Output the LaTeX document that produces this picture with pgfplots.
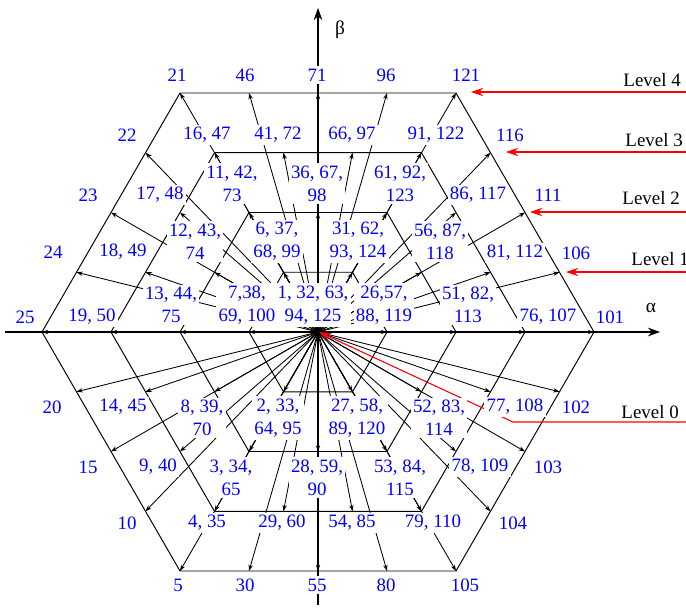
\documentclass[border=0pt]{standalone}
\usepackage{fontspec}
\setmainfont{Liberation Serif}
\usepackage{pgfplots}
\usepackage{pgfplotstable}
\pgfplotsset{compat=1.18}
\usetikzlibrary{arrows.meta}
\definecolor{lblue}{RGB}{0,0,255}

\pgfplotstableread{
x y u v
0 0 -138 239
0 0 -69 239
0 0 0 239
0 0 69 239
0 0 138 239
0 0 -172.5 179.3
0 0 -103.5 179.3
0 0 -34.5 179.3
0 0 34.5 179.3
0 0 103.5 179.3
0 0 172.5 179.3
0 0 -207 119.5
0 0 -138 119.5
0 0 -69 119.5
0 0 0 119.5
0 0 69 119.5
0 0 138 119.5
0 0 207 119.5
0 0 -241.5 59.76
0 0 -172.5 59.76
0 0 -103.5 59.76
0 0 -34.5 59.76
0 0 34.5 59.76
0 0 103.5 59.76
0 0 172.5 59.76
0 0 241.5 59.76
0 0 -276 0
0 0 -207 0
0 0 -138 0
0 0 -69 0
0 0 69 0
0 0 138 0
0 0 207 0
0 0 276 0
0 0 -241.5 -59.76
0 0 -172.5 -59.76
0 0 -103.5 -59.76
0 0 -34.5 -59.76
0 0 34.5 -59.76
0 0 103.5 -59.76
0 0 172.5 -59.76
0 0 241.5 -59.76
0 0 -207 -119.5
0 0 -138 -119.5
0 0 -69 -119.5
0 0 0 -119.5
0 0 69 -119.5
0 0 138 -119.5
0 0 207 -119.5
0 0 -172.5 -179.3
0 0 -103.5 -179.3
0 0 -34.5 -179.3
0 0 34.5 -179.3
0 0 103.5 -179.3
0 0 172.5 -179.3
0 0 -138 -239
0 0 -69 -239
0 0 0 -239
0 0 69 -239
0 0 138 -239
}\vectors

\tikzset{
  lbl/.style={font=\fontsize{7.8}{9.4}\selectfont, text=lblue, fill=white, inner sep=1pt, align=center},
  lev/.style={font=\fontsize{7.8}{9.4}\selectfont, text=black, anchor=west, inner sep=0pt},
}
\newcommand{\lab}[3]{\node[lbl] at (axis cs:#1,#2) {#3};}
\newcommand{\lev}[3]{\node[lev] at (axis cs:#1,#2) {#3};}

\begin{document}
\begin{tikzpicture}
\begin{axis}[
  set layers, hide axis, clip=false,
  x=0.4125pt, y=0.4125pt,
  xmin=-318, xmax=368, ymin=-275, ymax=332,
]
% hexagons
\addplot[black, line width=0.4pt] coordinates {(69,0)(34.5,59.76)(-34.5,59.76)(-69,0)(-34.5,-59.76)(34.5,-59.76)(69,0)};
\addplot[black, line width=0.4pt] coordinates {(138,0)(69,119.5)(-69,119.5)(-138,0)(-69,-119.5)(69,-119.5)(138,0)};
\addplot[black, line width=0.4pt] coordinates {(207,0)(103.5,179.3)(-103.5,179.3)(-207,0)(-103.5,-179.3)(103.5,-179.3)(207,0)};
\addplot[black, line width=0.4pt] coordinates {(276,0)(138,239)(-138,239)(-276,0)(-138,-239)(138,-239)(276,0)};
% vectors from origin
\addplot[black, line width=0.35pt, -{Stealth[length=2.6pt,width=1.8pt]},
  quiver={u=\thisrow{u}, v=\thisrow{v}}] table[x=x, y=y] {\vectors};
% axes
\addplot[black, line width=0.45pt, -{Stealth[length=5pt,width=3.6pt]}] coordinates {(-313,0)(342,0)};
\addplot[black, line width=0.45pt, -{Stealth[length=5pt,width=3.6pt]}] coordinates {(0,-273)(0,324)};
% red level pointers
\addplot[red, line width=0.45pt, -{Stealth[length=5pt,width=3.4pt]}] coordinates {(370,240)(153,240)};
\addplot[red, line width=0.45pt, -{Stealth[length=5pt,width=3.4pt]}] coordinates {(370,180)(188,180)};
\addplot[red, line width=0.45pt, -{Stealth[length=5pt,width=3.4pt]}] coordinates {(370,120)(212,120)};
\addplot[red, line width=0.45pt, -{Stealth[length=5pt,width=3.4pt]}] coordinates {(370,60)(248,60)};
\addplot[red, line width=0.45pt, -{Stealth[length=5pt,width=3.4pt]}] coordinates {(370,-90)(195,-90)(1,0)};
% axis names
\node[font=\fontsize{8}{9}\selectfont] at (axis cs:333,24) {α};
\node[font=\fontsize{8}{9}\selectfont] at (axis cs:22,302) {β};
% level texts
\lev{305}{252}{Level 4}
\lev{307}{192}{Level 3}
\lev{304}{134}{Level 2}
\lev{313}{73}{Level 1}
\lev{303}{-80}{Level 0}
% labels
\begin{pgfonlayer}{axis foreground}
\lab{-141}{257}{21}
\lab{-73}{257}{46}
\lab{-1}{257}{71}
\lab{68}{257}{96}
\lab{148}{257}{121}
\lab{-191}{197}{22}
\lab{-111}{197}{16, 47}
\lab{-40}{197}{41, 72}
\lab{34}{197}{66, 97}
\lab{118}{197}{91, 122}
\lab{192}{197}{116}
\lab{-86}{148.5}{11, 42,\\73}
\lab{-1}{148.5}{36, 67,\\98}
\lab{82}{148.5}{61, 92,\\123}
\lab{-230}{137}{23}
\lab{-158}{137}{17, 48}
\lab{160}{137}{86, 117}
\lab{230}{137}{111}
\lab{-123}{90.5}{12, 43,\\74}
\lab{-41}{90.5}{6, 37,\\68, 99}
\lab{40}{90.5}{31, 62,\\93, 124}
\lab{122}{90.5}{56, 87,\\118}
\lab{-265}{80}{24}
\lab{-195}{80}{18, 49}
\lab{197}{79}{81, 112}
\lab{258}{79}{106}
\lab{-147}{27}{13, 44,\\75}
\lab{-71}{27}{7,38,\\69, 100}
\lab{-5}{27}{1, 32, 63,\\94, 125}
\lab{66}{27}{26,57,\\88, 119}
\lab{150}{27}{51, 82,\\113}
\lab{-293}{15}{25}
\lab{-226}{15}{19, 50}
\lab{230}{15}{76, 107}
\lab{292}{15}{101}
\lab{-266}{-75}{20}
\lab{-195}{-75}{14, 45}
\lab{-116}{-86}{8, 39,\\70}
\lab{-40}{-86}{2, 33,\\64, 95}
\lab{39}{-86}{27, 58,\\89, 120}
\lab{121}{-86}{52, 83,\\114}
\lab{197}{-75}{77, 108}
\lab{258}{-75}{102}
\lab{-230}{-135}{15}
\lab{-160}{-135}{9, 40}
\lab{-87}{-145.5}{3, 34,\\65}
\lab{-1}{-145.5}{28, 59,\\90}
\lab{82}{-145.5}{53, 84,\\115}
\lab{162}{-135}{78, 109}
\lab{230}{-135}{103}
\lab{-191}{-191}{10}
\lab{-111}{-191}{4, 35}
\lab{-36}{-191}{29, 60}
\lab{34}{-191}{54, 85}
\lab{115}{-191}{79, 110}
\lab{195}{-191}{104}
\lab{-140}{-253}{5}
\lab{-73}{-253}{30}
\lab{-1}{-253}{55}
\lab{68}{-253}{80}
\lab{147}{-253}{105}
\end{pgfonlayer}
\end{axis}
\pgfresetboundingbox
\useasboundingbox (current axis.south west) rectangle (current axis.north east);
\end{tikzpicture}
\end{document}
